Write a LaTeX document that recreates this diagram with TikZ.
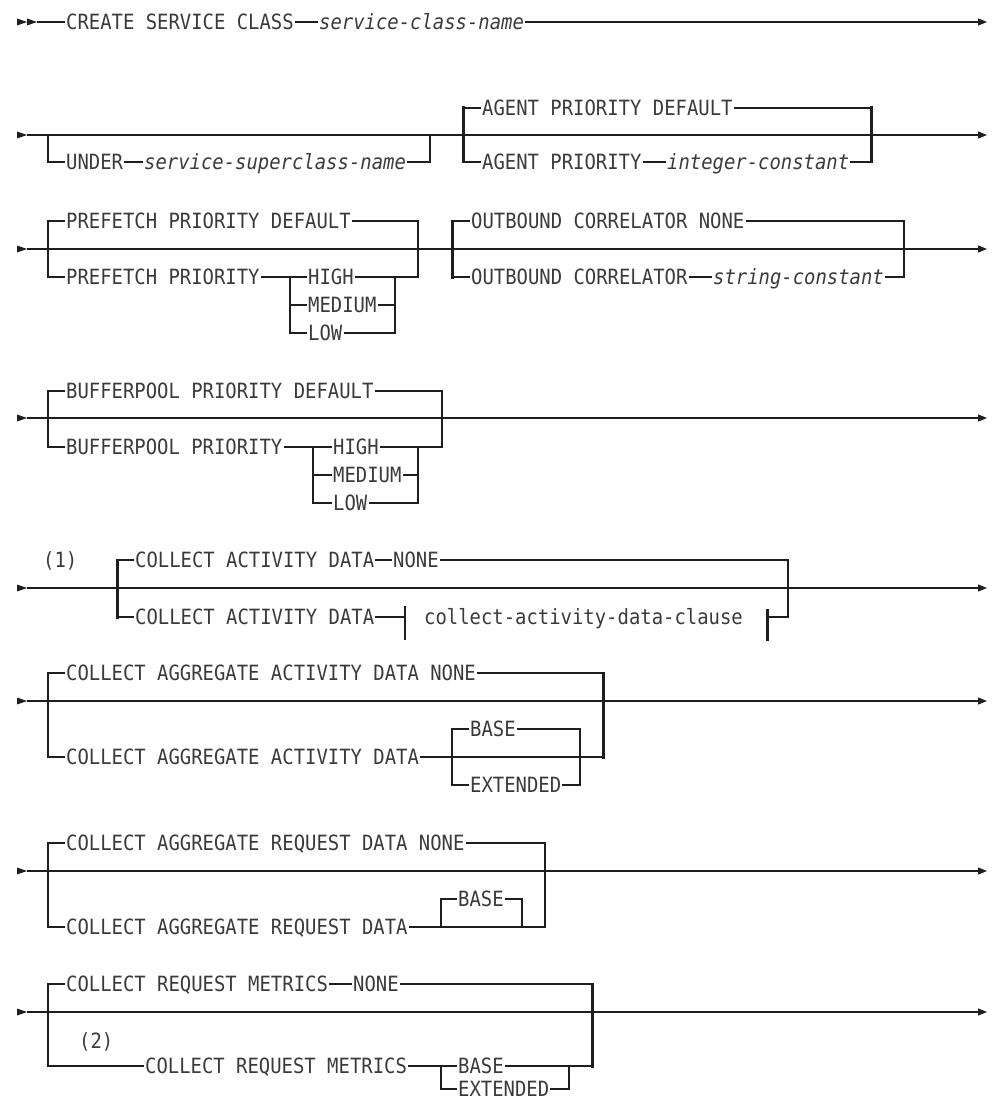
\documentclass[tikz,border=0pt]{standalone}
\usepackage{fontspec}
\newfontfamily\rr[FakeStretch=0.9]{DejaVu Sans Mono}
\usetikzlibrary{arrows.meta}
\definecolor{ink}{HTML}{3A3A3A}
\definecolor{rule}{HTML}{1E1E1E}
\newcommand\kwfont{\rr\fontsize{21}{25}\selectfont}
\begin{document}
\begin{tikzpicture}[x=1pt,y=-1pt,
  txt/.style={font=\kwfont, text=ink, inner xsep=1pt, inner ysep=0pt, text height=15.3pt, text depth=0pt, anchor=west},
  it/.style={txt, font=\kwfont\itshape},
  ln/.style={draw=rule, line width=1.2pt},
  bold/.style={draw=rule, line width=3pt},
  semi/.style={draw=rule, line width=2pt},
  arr/.style={-{Triangle[length=9pt,width=7pt]}},
  startarr/.pic={\fill[rule] (-10,-3.5) -- (0,0) -- (-10,3.5) -- cycle;}
]
\useasboundingbox (0,0) rectangle (992,1102);

% ---------- Row 1
\pic at (27,22) {startarr};
\pic at (37,22) {startarr};
\coordinate (s1) at (37,22);
\coordinate (e1) at (987,22);
\node[txt] (r1a) at (65,22) {CREATE SERVICE CLASS};
\node[it]  (r1b) at (318,22) {service-class-name};
\draw[ln] (s1) -- (r1a.west);
\draw[ln] (r1a) -- (r1b);
\draw[ln,arr] (r1b.east) -- (e1);

% ---------- Row 2
\pic at (27,135) {startarr};
\coordinate (s2) at (27,135);
\coordinate (e2) at (987,135);
\draw[ln,arr] (s2) -- (e2);
\node[txt] (r2u) at (65,162) {UNDER};
\node[it]  (r2s) at (143,162) {service-superclass-name};
\draw[ln] (48,135) |- (r2u.west);
\draw[ln] (r2u) -- (r2s);
\draw[ln] (r2s.east) -| (430,135);
\node[txt] (r2a) at (481,108) {AGENT PRIORITY DEFAULT};
\node[txt] (r2b) at (481,162) {AGENT PRIORITY};
\node[it]  (r2c) at (666,162) {integer-constant};
\draw[ln] (463,108) -- (r2a.west);
\draw[ln] (r2a.east) -- (871,108);
\draw[ln] (463,162) -- (r2b.west);
\draw[ln] (r2b) -- (r2c);
\draw[ln] (r2c.east) -- (871,162);
\draw[bold] (463,106.5) -- (463,163.5);
\draw[bold] (871,106.5) -- (871,163.5);

% ---------- Row 3
\pic at (27,249) {startarr};
\coordinate (s3) at (27,249);
\coordinate (e3) at (987,249);
\draw[ln,arr] (s3) -- (e3);
\node[txt] (r3a) at (65,221) {PREFETCH PRIORITY DEFAULT};
\node[txt] (r3b) at (65,277) {PREFETCH PRIORITY};
\node[txt] (r3h) at (307,277) {HIGH};
\node[txt] (r3m) at (307,305) {MEDIUM};
\node[txt] (r3l) at (307,333) {LOW};
\draw[ln] (r3a.west) -| (48,277) -- (r3b.west);
\draw[ln] (r3a.east) -| (418,277) -- (r3h.east);
\draw[ln] (r3b.east) -- (r3h.west);
\draw[ln] (290,277) |- (r3l.west);
\draw[ln] (290,305) -- (r3m.west);
\draw[ln] (r3l.east) -| (395,277);
\draw[ln] (r3m.east) -- (395,305);
\node[txt] (r3c) at (470,221) {OUTBOUND CORRELATOR NONE};
\node[txt] (r3d) at (470,277) {OUTBOUND CORRELATOR};
\node[it]  (r3e) at (712,277) {string-constant};
\draw[ln] (452,221) -- (r3c.west);
\draw[ln] (452,277) -- (r3d.west);
\draw[ln] (r3d) -- (r3e);
\draw[ln] (r3c.east) -| (904,277) -- (r3e.east);
\draw[bold] (452,219.5) -- (452,278.5);

% ---------- Row 4
\pic at (27,418) {startarr};
\coordinate (s4) at (27,418);
\coordinate (e4) at (987,418);
\draw[ln,arr] (s4) -- (e4);
\node[txt] (r4a) at (65,391) {BUFFERPOOL PRIORITY DEFAULT};
\node[txt] (r4b) at (65,447) {BUFFERPOOL PRIORITY};
\node[txt] (r4h) at (332,447) {HIGH};
\node[txt] (r4m) at (332,475) {MEDIUM};
\node[txt] (r4l) at (332,503) {LOW};
\draw[ln] (r4a.west) -| (48,447) -- (r4b.west);
\draw[ln] (r4a.east) -| (442,447) -- (r4h.east);
\draw[ln] (r4b.east) -- (r4h.west);
\draw[ln] (313,447) |- (r4l.west);
\draw[ln] (313,475) -- (r4m.west);
\draw[ln] (r4l.east) -| (418,447);
\draw[ln] (r4m.east) -- (418,475);

% ---------- Row 5
\node[txt] (n1) at (42,560) {(1)};
\pic at (27,588) {startarr};
\coordinate (s5) at (27,588);
\coordinate (e5) at (987,588);
\draw[ln,arr] (s5) -- (e5);
\node[txt] (r5a) at (134,560) {COLLECT ACTIVITY DATA};
\node[txt] (r5n) at (392,560) {NONE};
\node[txt] (r5b) at (134,617) {COLLECT ACTIVITY DATA};
\node[txt] (r5c) at (423,617) {collect-activity-data-clause};
\draw[ln] (117,560) -- (r5a.west);
\draw[ln] (r5a) -- (r5n);
\draw[ln] (117,617) -- (r5b.west);
\draw[ln] (r5b.east) -- (405,617);
\draw[ln] (405,606) -- (405,640);
\draw[ln] (r5n.east) -| (788,617) -- (767,617);
\draw[bold] (767,609) -- (767,641);
\draw[bold] (117,558.5) -- (117,618.5);

% ---------- Row 6
\pic at (27,701) {startarr};
\coordinate (s6) at (27,701);
\coordinate (e6) at (987,701);
\draw[ln,arr] (s6) -- (e6);
\node[txt] (r6a) at (65,673) {COLLECT AGGREGATE ACTIVITY DATA NONE};
\node[txt] (r6b) at (65,757) {COLLECT AGGREGATE ACTIVITY DATA};
\node[txt] (r6c) at (469,729) {BASE};
\node[txt] (r6d) at (469,785) {EXTENDED};
\draw[ln] (r6a.west) -| (48,757) -- (r6b.west);
\draw[ln] (r6a.east) -- (603,673);
\draw[ln] (r6b.east) -- (603,757);
\draw[ln] (452,729) -- (r6c.west);
\draw[ln] (452,785) -- (r6d.west);
\draw[ln] (r6c.east) -- (580,729);
\draw[ln] (r6d.east) -- (580,785);
\draw[semi] (452,728) -- (452,786);
\draw[semi] (580,728) -- (580,786);
\draw[bold] (603,671.5) -- (603,758.5);

% ---------- Row 7
\pic at (27,871) {startarr};
\coordinate (s7) at (27,871);
\coordinate (e7) at (987,871);
\draw[ln,arr] (s7) -- (e7);
\node[txt] (r7a) at (65,843) {COLLECT AGGREGATE REQUEST DATA NONE};
\node[txt] (r7b) at (65,927) {COLLECT AGGREGATE REQUEST DATA};
\node[txt] (r7c) at (457,899) {BASE};
\draw[ln] (r7a.west) -| (48,927) -- (r7b.west);
\draw[ln] (r7a.east) -| (545,927) -- (r7b.east);
\draw[ln] (441,927) |- (r7c.west);
\draw[ln] (r7c.east) -| (522,927);

% ---------- Row 8
\pic at (27,1012) {startarr};
\coordinate (s8) at (27,1012);
\coordinate (e8) at (987,1012);
\draw[ln,arr] (s8) -- (e8);
\node[txt] (r8a) at (65,984) {COLLECT REQUEST METRICS};
\node[txt] (r8n) at (352,984) {NONE};
\node[txt] (n2) at (78,1041) {(2)};
\node[txt] (r8b) at (144,1066) {COLLECT REQUEST METRICS};
\node[txt] (r8c) at (457,1066) {BASE};
\node[txt] (r8d) at (457,1089) {EXTENDED};
\draw[ln] (r8a.west) -| (48,1066) -- (r8b.west);
\draw[ln] (r8a) -- (r8n);
\draw[ln] (r8n.east) -- (592,984);
\draw[ln] (r8b) -- (r8c);
\draw[ln] (r8c.east) -- (592,1066);
\draw[ln] (441,1066) |- (r8d.west);
\draw[ln] (r8d.east) -| (569,1066);
\draw[bold] (592,982.5) -- (592,1067.5);
\end{tikzpicture}
\end{document}
